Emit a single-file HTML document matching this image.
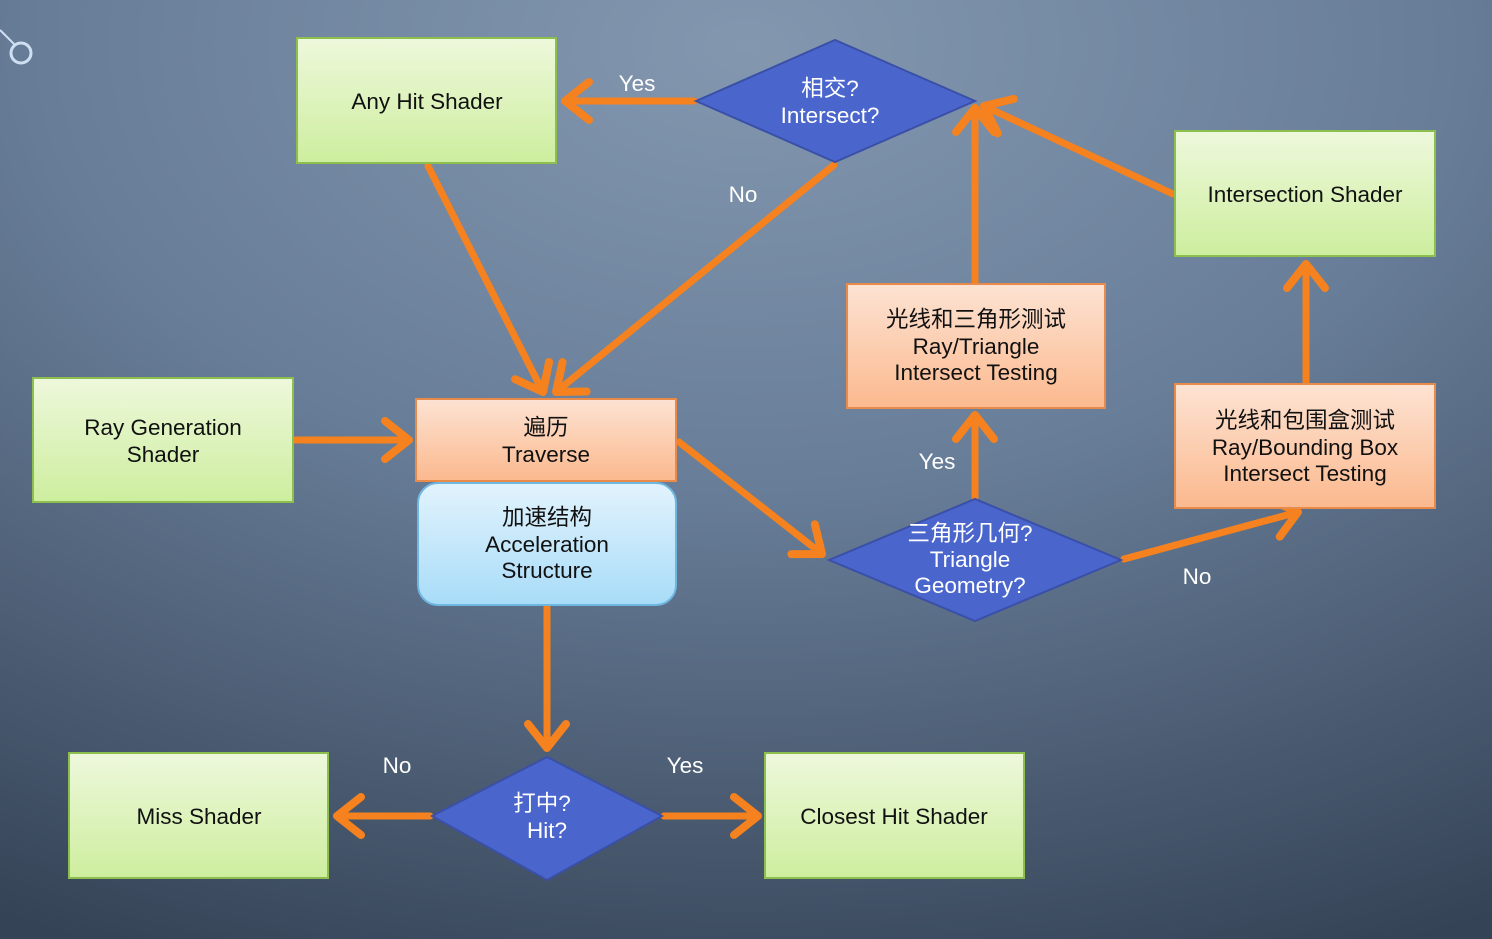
<!DOCTYPE html>
<html><head><meta charset="utf-8"><style>
html,body{margin:0;padding:0;width:1492px;height:939px;overflow:hidden}
svg{display:block}
text{font-family:"Liberation Sans","Noto Sans CJK SC",sans-serif;font-size:22.5px}
</style></head><body>
<svg width="1492" height="939" viewBox="0 0 1492 939">
<defs>
<radialGradient id="bg" cx="0.5" cy="0.05" r="1.05">
<stop offset="0" stop-color="#8397af"/><stop offset="0.45" stop-color="#687d98"/><stop offset="1" stop-color="#354356"/>
</radialGradient>
<linearGradient id="gr" x1="0" y1="0" x2="0" y2="1"><stop offset="0" stop-color="#eef8dc"/><stop offset="1" stop-color="#cdee9e"/></linearGradient>
<linearGradient id="or" x1="0" y1="0" x2="0" y2="1"><stop offset="0" stop-color="#fde3d3"/><stop offset="1" stop-color="#fbb98e"/></linearGradient>
<linearGradient id="bl" x1="0" y1="0" x2="0" y2="1"><stop offset="0" stop-color="#e2f3fd"/><stop offset="1" stop-color="#a8dcf8"/></linearGradient>
<marker id="a" viewBox="-34 -24 38 48" refX="0" refY="0" markerWidth="38" markerHeight="48" markerUnits="userSpaceOnUse" orient="auto">
<polyline points="-24,-19 0,0 -24,19" fill="none" stroke="#f5821f" stroke-width="8" stroke-linecap="round" stroke-linejoin="round"/>
</marker>
</defs>
<rect width="1492" height="939" fill="url(#bg)"/>
<path d="M0 30 L14 44" stroke="#cfe0f2" stroke-width="2"/><circle cx="21" cy="53" r="10" fill="none" stroke="#cfe0f2" stroke-width="3"/>
<g stroke="#f5821f" stroke-width="7" fill="none" marker-end="url(#a)" stroke-linecap="round">
<line x1="694" y1="101" x2="565" y2="101"/>
<line x1="428" y1="166" x2="543" y2="392"/>
<line x1="834" y1="165" x2="556" y2="392"/>
<line x1="975" y1="284" x2="975" y2="108"/>
<line x1="1173" y1="194" x2="984" y2="106"/>
<line x1="295" y1="440" x2="409" y2="440"/>
<line x1="679" y1="442" x2="822" y2="554"/>
<line x1="975" y1="497" x2="975" y2="415"/>
<line x1="1124" y1="559" x2="1298" y2="512"/>
<line x1="1306" y1="383" x2="1306" y2="264"/>
<line x1="547" y1="607" x2="547" y2="748"/>
<line x1="430" y1="816" x2="337" y2="816"/>
<line x1="664" y1="816" x2="758" y2="816"/>
</g>
<g stroke="#8cbf4e" stroke-width="2" fill="url(#gr)">
<rect x="297" y="38" width="259" height="125"/>
<rect x="1175" y="131" width="260" height="125"/>
<rect x="33" y="378" width="260" height="124"/>
<rect x="69" y="753" width="259" height="125"/>
<rect x="765" y="753" width="259" height="125"/>
</g>
<g stroke="#e88a4a" stroke-width="2" fill="url(#or)">
<rect x="847" y="284" width="258" height="124"/>
<rect x="416" y="399" width="260" height="82"/>
<rect x="1175" y="384" width="260" height="124"/>
</g>
<rect x="418" y="483" width="258" height="122" rx="20" fill="url(#bl)" stroke="#6fb6e0" stroke-width="2"/>
<g fill="#4a66cc" stroke="#3a50a8" stroke-width="2">
<polygon points="696,101 835,40 975,101 835,162"/>
<polygon points="829,560 975,499 1121,560 975,621"/>
<polygon points="432,816 547,757 662,816 547,880"/>
</g>
<g fill="#111" text-anchor="middle">
<text x="427" y="109">Any Hit Shader</text>
<text x="1305" y="202">Intersection Shader</text>
<text x="163" y="435">Ray Generation</text><text x="163" y="462">Shader</text>
<text x="199" y="824">Miss Shader</text>
<text x="894" y="824">Closest Hit Shader</text>
<text x="976" y="327">光线和三角形测试</text><text x="976" y="354">Ray/Triangle</text><text x="976" y="380">Intersect Testing</text>
<text x="546" y="435">遍历</text><text x="546" y="462">Traverse</text>
<text x="1305" y="428">光线和包围盒测试</text><text x="1305" y="455">Ray/Bounding Box</text><text x="1305" y="481">Intersect Testing</text>
<text x="547" y="525">加速结构</text><text x="547" y="552">Acceleration</text><text x="547" y="578">Structure</text>
</g>
<g fill="#fff" text-anchor="middle">
<text x="830" y="96">相交?</text><text x="830" y="123">Intersect?</text>
<text x="970" y="541">三角形几何?</text><text x="970" y="567">Triangle</text><text x="970" y="593">Geometry?</text>
<text x="542" y="811">打中?</text><text x="547" y="838">Hit?</text>
<text x="637" y="91">Yes</text>
<text x="743" y="202">No</text>
<text x="937" y="469">Yes</text>
<text x="1197" y="584">No</text>
<text x="397" y="773">No</text>
<text x="685" y="773">Yes</text>
</g>
</svg>
</body></html>
